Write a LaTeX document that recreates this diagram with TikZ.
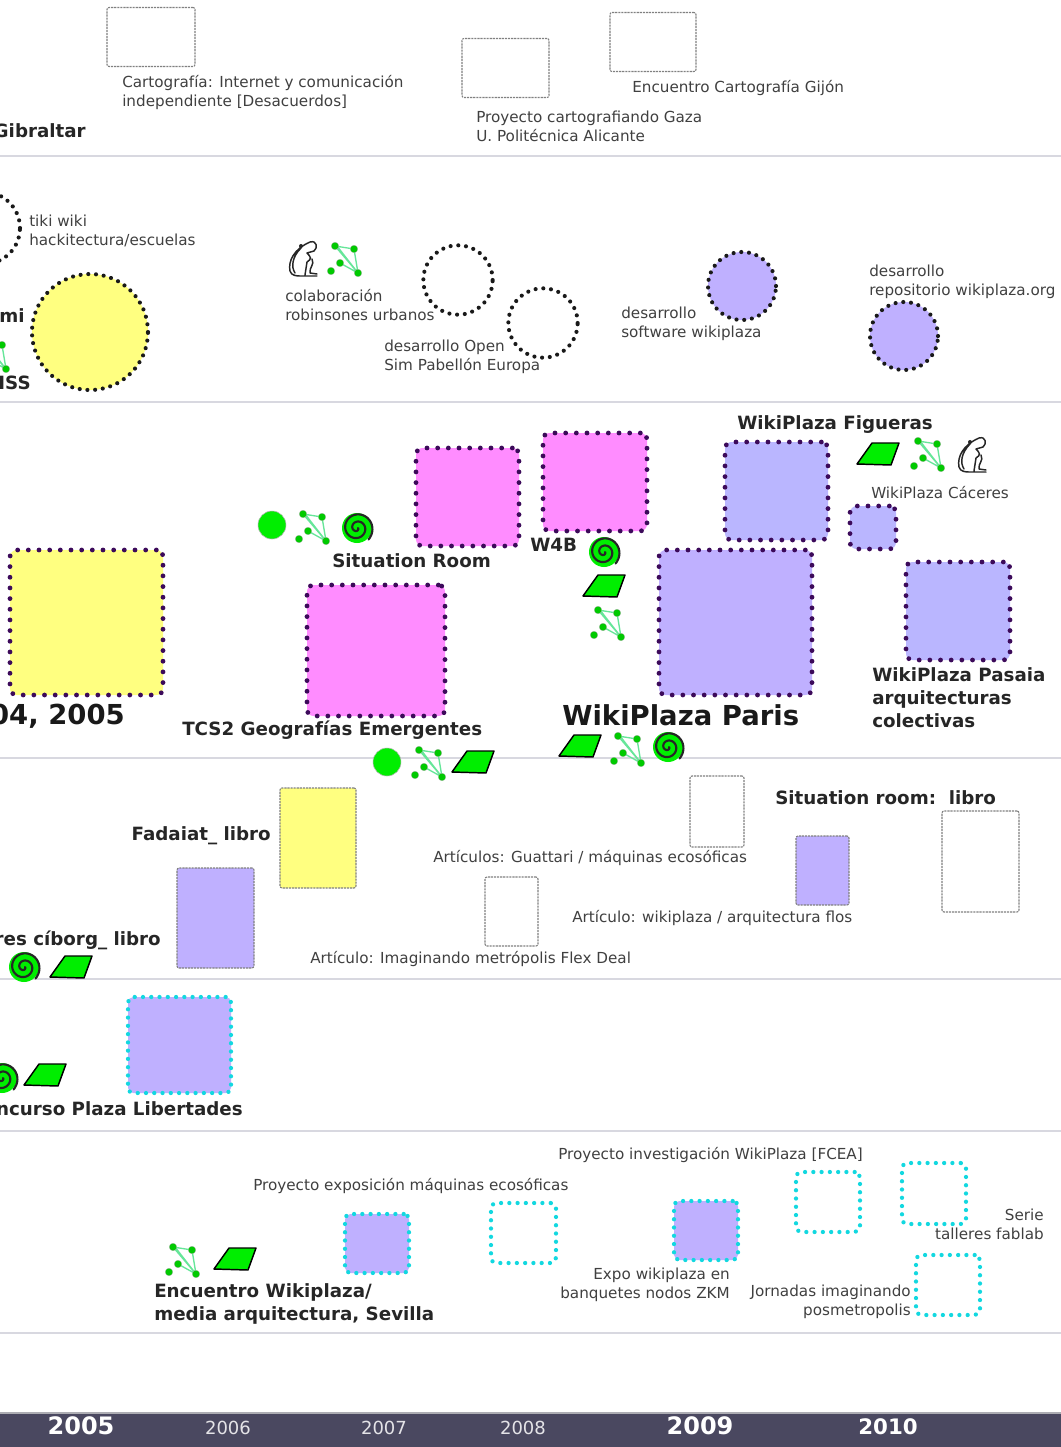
\documentclass[tikz,border=0pt]{standalone}
\usepackage{fontspec}
\setmainfont{DejaVu Sans}
\usetikzlibrary{positioning}

\definecolor{lilacfill}{HTML}{BFB0FF}
\definecolor{bluefill}{HTML}{BAB6FF}
\definecolor{pinkfill}{HTML}{FF8CFF}
\definecolor{yellowfill}{HTML}{FFFF80}
\definecolor{markgreen}{HTML}{00EE00}
\definecolor{netgreen}{HTML}{66E699}
\definecolor{purpledot}{HTML}{3C0A5A}
\definecolor{cyandot}{HTML}{12D8E0}
\definecolor{rulegrey}{HTML}{D8D8E0}
\definecolor{bandblue}{HTML}{4A4860}
\definecolor{thingrey}{HTML}{808080}
\definecolor{labelgrey}{HTML}{404040}

\tikzset{
  boxsize/.style 2 args={minimum width=#1*0.75pt,minimum height=#2*0.75pt},
  thinbox/.style={rectangle,draw=thingrey,line width=0.8pt,dash pattern=on 1.6pt off 0.7pt,rounded corners=1.5pt,inner sep=0pt,outer sep=0pt},
  dotbase/.style={line width=3.6pt,line cap=round,dash pattern=on 0pt off 8pt,inner sep=0pt,outer sep=0pt},
  purplebox/.style={dotbase,rectangle,rounded corners=5pt,draw=purpledot},
  cyanbox/.style={dotbase,rectangle,rounded corners=4pt,draw=cyandot,line width=3.2pt,dash pattern=on 0pt off 6.2pt},
  ring/.style={dotbase,circle,draw=black!90,line width=3.1pt,dash pattern=on 0pt off 5.8pt},
  smalltxt/.style={anchor=west,align=left,inner sep=0pt,yshift=-0.8pt,text=labelgrey,font=\fontsize{11.4}{14.3}\selectfont},
  boldtxt/.style={anchor=west,align=left,inner sep=0pt,yshift=-0.8pt,text=black!85,font=\fontsize{13.7}{17.2}\selectfont\bfseries},
  hugetxt/.style={anchor=west,inner sep=0pt,text=black!90,font=\fontsize{20.6}{24}\selectfont\bfseries},
  yeartxt/.style={inner sep=0pt,text=white!85!bandblue,font=\fontsize{13.5}{15}\selectfont},
  bigyeartxt/.style={inner sep=0pt,text=white,font=\fontsize{18}{20}\selectfont\bfseries},
  dotpic/.pic={\fill[markgreen,draw=thingrey!60,line width=0.4pt] (0,0) circle (14);},
  parapic/.pic={\draw[fill=markgreen,draw=black,line width=1.1pt,line join=round] (-6,-11) -- (21,-11) -- (13,11) -- (-21,10) -- cycle;},
  netpic/.pic={
    \draw[netgreen,line width=1pt] (-10,-13) -- (9,-10) -- (13,14) -- (-10,-13) (-8,-13) -- (13,14) -- (-5,4);
    \foreach \p in {(-10,-13),(9,-10),(13,14),(-5,4),(-14,12)}
      \fill[markgreen!85!black,draw=thingrey!60,line width=0.2pt] \p circle (3.8);
  },
  spiralpic/.pic={
    \fill[markgreen] (0,0) circle (15);
    \draw[black!85,line width=1.6pt,line cap=round] plot[domain=0:765,samples=80,smooth] (\x:{1+\x/50});
  },
  manpic/.pic={
    \draw[black!85,line width=1.1pt,line join=round,line cap=round]
      (6,-17) .. controls (-10,-10) and (-16,2) .. (-14,12) .. controls (-13,17) and (-6,17) .. (-4,17) -- (13,17)
      (6,-17) .. controls (13,-19) and (14,-11) .. (10,-8) -- (3,-6)
      (-3,-11) .. controls (-12,-2) and (-13,8) .. (-9,14)
      (3,-6) .. controls (7,-2) and (8,0) .. (3,3) -- (1,16)
      (8,0) .. controls (11,6) and (5,8) .. (6,14) -- (13,15);
    \fill[black!85] (-3,-13) circle (2);
  }
}

\begin{document}
\begin{tikzpicture}[x=0.75pt,y=-0.75pt]
    \useasboundingbox (0,0) rectangle (1061,1447);
    \clip (0,0) rectangle (1061,1447);
    \fill[white] (0,0) rectangle (1061,1447);

    % rows
    \foreach \y in {156,402,758,979,1131,1333}
      \draw[rulegrey,line width=1.5pt] (0,\y) -- (1061,\y);
    \fill[bandblue] (0,1413) rectangle (1061,1447);
    \draw[rulegrey!80!black,line width=1pt] (0,1413) -- (1061,1413);

    % first row
    \node[thinbox,boxsize={80}{95}]  (gib)   at (-41,58)   {};
    \node[thinbox,boxsize={88}{59}]  (desa)  at (151,37)   {};
    \node[thinbox,boxsize={87}{59}]  (gaza)  at (505.5,68) {};
    \node[thinbox,boxsize={86}{59}]  (gijon) at (653,42)   {};
    \node[boldtxt,anchor=east]       (gibt)  at (86,130)   {Gibraltar};
    \node[smalltxt]                  (desat) at (122,91)   {Cartografía: Internet y comunicación\\independiente [Desacuerdos]};
    \node[smalltxt]                  (gazat) at (476,125)  {Proyecto cartografiando Gaza\\U. Politécnica Alicante};
    \node[smalltxt]                  (gijot) at (632,87)   {Encuentro Cartografía Gijón};

    % second row
    \node[ring,minimum size=54pt]                  (tiki) at (-16,228) {};
    \node[ring,fill=yellowfill,minimum size=87pt]  (miss) at (90,332)  {};
    \node[ring,minimum size=52pt]                  (robi) at (458,280) {};
    \node[ring,minimum size=52pt]                  (open) at (543,323) {};
    \node[ring,fill=lilacfill,minimum size=51pt]   (soft) at (742,286) {};
    \node[ring,fill=lilacfill,minimum size=51pt]   (repo) at (904,336) {};
    \node[smalltxt]              (tikit) at (29,230)  {tiki wiki\\hackitectura/escuelas};
    \node[boldtxt,anchor=east]   (mit)   at (25,314)  {mi};
    \node[boldtxt,anchor=east]   (isst)  at (31,382)  {ISS};
    \node[smalltxt]              (robit) at (285,304) {colaboración\\robinsones urbanos};
    \node[smalltxt]              (opent) at (384,356) {desarrollo Open\\Sim Pabellón Europa};
    \node[smalltxt]              (softt) at (621,323) {desarrollo\\software wikiplaza};
    \node[smalltxt]              (repot) at (869,281) {desarrollo\\repositorio wikiplaza.org};
    \pic at (-7,355) {netpic};
    \pic at (304,259) {manpic};
    \pic at (345,259) {netpic};

    % third row
    \node[purplebox,fill=yellowfill,boxsize={153}{145}] (fad)  at (86.5,622.5) {};
    \node[purplebox,fill=pinkfill,boxsize={103}{98}]    (sit)  at (467.5,497)  {};
    \node[purplebox,fill=pinkfill,boxsize={104}{98}]    (wfb)  at (595,482)    {};
    \node[purplebox,fill=pinkfill,boxsize={138}{131}]   (tcs)  at (376,650.5)  {};
    \node[purplebox,fill=bluefill,boxsize={103}{98}]    (fig)  at (776.5,491)  {};
    \node[purplebox,fill=bluefill,boxsize={46}{43}]     (cac)  at (873,527.5)  {};
    \node[purplebox,fill=lilacfill,boxsize={153}{145}]  (par)  at (735.5,622.5) {};
    \node[purplebox,fill=bluefill,boxsize={104}{98}]    (pas)  at (958,611)    {};
    \node[hugetxt,anchor=east]   (fadt)  at (125,716) {04, 2005};
    \node[boldtxt]               (sitt)  at (332,560) {Situation Room};
    \node[boldtxt]               (wfbt)  at (530,544) {W4B};
    \node[boldtxt]               (tcst)  at (182,729) {TCS2 Geografías Emergentes};
    \node[boldtxt]               (figt)  at (737,423) {WikiPlaza Figueras};
    \node[smalltxt]              (cact)  at (871,491) {WikiPlaza Cáceres};
    \node[hugetxt]               (part)  at (562,715) {WikiPlaza Paris};
    \node[boldtxt]               (past)  at (872,697) {WikiPlaza Pasaia\\arquitecturas\\colectivas};
    \pic at (272,525) {dotpic};
    \pic at (313,527) {netpic};
    \pic at (357,528) {spiralpic};
    \pic at (878,454) {parapic};
    \pic at (928,454) {netpic};
    \pic at (973,455) {manpic};
    \pic at (604,552) {spiralpic};
    \pic at (604,586) {parapic};
    \pic at (608,623) {netpic};
    \pic at (387,762) {dotpic};
    \pic at (429,763) {netpic};
    \pic at (473,762) {parapic};
    \pic at (580,746) {parapic};
    \pic at (628,749) {netpic};
    \pic at (668,747) {spiralpic};

    % fourth row
    \node[thinbox,fill=yellowfill,boxsize={76}{100}] (libf) at (318,838)     {};
    \node[thinbox,fill=lilacfill,boxsize={77}{100}]  (libc) at (215.5,918)   {};
    \node[thinbox,boxsize={54}{71}]                  (guat) at (717,811.5)   {};
    \node[thinbox,fill=lilacfill,boxsize={53}{69}]   (flos) at (822.5,870.5) {};
    \node[thinbox,boxsize={77}{101}]                 (lsit) at (980.5,861.5) {};
    \node[thinbox,boxsize={53}{69}]                  (flex) at (511.5,911.5) {};
    \node[boldtxt,anchor=east]   (libft) at (271,835) {Fadaiat\_ libro};
    \node[boldtxt,anchor=east]   (libct) at (161,939) {res cíborg\_ libro};
    \node[smalltxt]              (guatt) at (433,857) {Artículos: Guattari / máquinas ecosóficas};
    \node[boldtxt]               (lsitt) at (775,797) {Situation room:\ \ libro};
    \node[smalltxt]              (flost) at (572,917) {Artículo: wikiplaza / arquitectura flos};
    \node[smalltxt]              (flext) at (310,958) {Artículo: Imaginando metrópolis Flex Deal};
    \pic at (24,967) {spiralpic};
    \pic at (71,967) {parapic};

    % fifth row
    \node[cyanbox,fill=lilacfill,boxsize={103}{96}] (plib) at (179.5,1045) {};
    \node[boldtxt,anchor=east]   (plibt) at (243,1108) {ncurso Plaza Libertades};
    \pic at (2,1078) {spiralpic};
    \pic at (45,1075) {parapic};

    % sixth row
    \node[cyanbox,fill=lilacfill,boxsize={64}{59}] (expo) at (377,1243.5) {};
    \node[cyanbox,boxsize={65}{60}]                (maqu) at (523.5,1233) {};
    \node[cyanbox,fill=lilacfill,boxsize={64}{59}] (zkm)  at (706,1230.5) {};
    \node[cyanbox,boxsize={64}{60}]                (fcea) at (828,1202)   {};
    \node[cyanbox,boxsize={64}{61}]                (fabl) at (934,1193.5) {};
    \node[cyanbox,boxsize={64}{60}]                (jorn) at (948,1285)   {};
    \node[smalltxt]              (fceat) at (558,1154)  {Proyecto investigación WikiPlaza [FCEA]};
    \node[smalltxt]              (maqut) at (253,1185)  {Proyecto exposición máquinas ecosóficas};
    \node[boldtxt]               (sevt)  at (154,1303)  {Encuentro Wikiplaza/\\media arquitectura, Sevilla};
    \node[smalltxt,anchor=east,align=right] (zkmt)  at (730,1284)  {Expo wikiplaza en\\banquetes nodos ZKM};
    \node[smalltxt,anchor=east,align=right] (jornt) at (911,1301)  {Jornadas imaginando\\posmetropolis};
    \node[smalltxt,anchor=east,align=right] (fablt) at (1044,1223) {Serie\\talleres fablab};
    \pic at (183,1260) {netpic};
    \pic at (235,1259) {parapic};

    % years
    \node[bigyeartxt] (y5)  at (81,1426)  {2005};
    \node[yeartxt]    (y6)  at (228,1428) {2006};
    \node[yeartxt]    (y7)  at (384,1428) {2007};
    \node[yeartxt]    (y8)  at (523,1428) {2008};
    \node[bigyeartxt] (y9)  at (700,1426) {2009};
    \node[bigyeartxt,font=\fontsize{16}{18}\selectfont\bfseries] (y10) at (888,1427) {2010};
  \end{tikzpicture}
\end{document}
